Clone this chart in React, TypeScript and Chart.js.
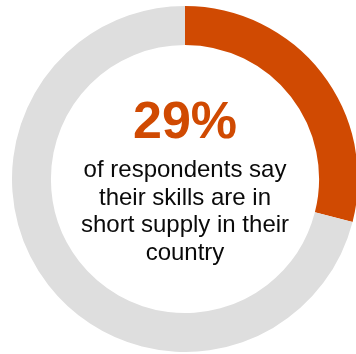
import React, { useEffect, useRef } from "react";
import { Chart, registerables } from "chart.js";

Chart.register(...registerables);

const categories = ["Skills in short supply", "Other"];
const values = [29, 71];
const colors = ["#D04A02", "#DEDEDE"];
const headline = "29%";
const captionLines = ["of respondents say", "their skills are in", "short supply in their", "country"];

const centerText = {
  id: "centerText",
  afterDraw(chart: any) {
    const meta = chart.getDatasetMeta(0);
    const arc = meta.data[0];
    if (!arc) return;
    const { x, y } = arc;
    const ctx = chart.ctx;
    ctx.save();
    ctx.textAlign = "center";
    ctx.textBaseline = "alphabetic";
    ctx.fillStyle = colors[0];
    ctx.font = "bold 52px 'Liberation Sans', Arial, sans-serif";
    ctx.fillText(headline, x, y - 41);
    ctx.fillStyle = "#0a0a0a";
    ctx.font = "24px 'Liberation Sans', Arial, sans-serif";
    captionLines.forEach((line, i) => {
      ctx.fillText(line, x, y - 2 + i * 27.7);
    });
    ctx.restore();
  },
};

export default function App() {
  const ref = useRef<HTMLCanvasElement>(null);
  useEffect(() => {
    if (!ref.current) return;
    const chart = new Chart(ref.current, {
      type: "doughnut",
      data: {
        labels: categories,
        datasets: [
          {
            data: values,
            backgroundColor: colors,
            borderWidth: 0,
          },
        ],
      },
      options: {
        animation: false,
        responsive: false,
        cutout: "77.5%",
        plugins: {
          legend: { display: false },
          tooltip: { enabled: false },
        },
        layout: { padding: 0 },
      },
      plugins: [centerText],
    });
    return () => chart.destroy();
  }, []);
  return (
    <div
      style={{
        position: "fixed",
        left: 0,
        top: 0,
        width: 356,
        height: 354,
        overflow: "hidden",
        background: "#fff",
      }}
    >
      <canvas
        ref={ref}
        width={346}
        height={346}
        style={{ position: "absolute", left: 12, top: 6, width: 346, height: 346 }}
      />
    </div>
  );
}
